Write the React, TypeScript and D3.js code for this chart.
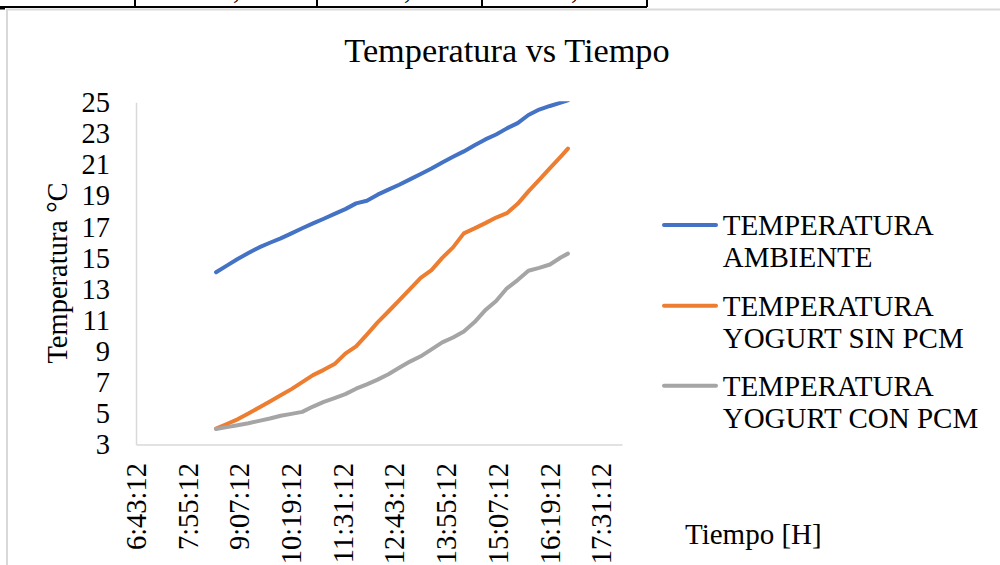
import React from "react";
import * as d3 from "d3";

// Sampling times (H:MM) shared by all three series
const times: string[] = [
  "8:34", "8:49", "9:04", "9:19", "9:34", "9:49", "10:04", "10:19", "10:34", "10:49",
  "11:04", "11:19", "11:34", "11:49", "12:04", "12:19", "12:34", "12:49", "13:04", "13:19",
  "13:34", "13:49", "14:04", "14:19", "14:34", "14:49", "15:04", "15:19", "15:34", "15:49",
  "16:04", "16:19", "16:34", "16:44",
];

// Temperatures in °C
const tempAmbiente: number[] = [
  14.1, 14.53, 14.95, 15.34, 15.7, 16.0, 16.28, 16.6, 16.93, 17.24,
  17.54, 17.85, 18.16, 18.53, 18.7, 19.09, 19.41, 19.73, 20.07, 20.42,
  20.77, 21.16, 21.52, 21.87, 22.27, 22.64, 22.96, 23.35, 23.69, 24.21,
  24.56, 24.79, 25.0, 25.15,
];
const tempSinPcm: number[] = [
  4.05, 4.35, 4.65, 5.02, 5.41, 5.8, 6.19, 6.59, 7.04, 7.49,
  7.83, 8.2, 8.87, 9.34, 10.1, 10.88, 11.58, 12.3, 13.02, 13.74,
  14.24, 15.03, 15.7, 16.6, 16.92, 17.26, 17.62, 17.9, 18.5, 19.3,
  20.04, 20.79, 21.54, 22.05,
];
const tempConPcm: number[] = [
  4.03, 4.15, 4.27, 4.4, 4.55, 4.7, 4.88, 5.0, 5.13, 5.47,
  5.77, 6.02, 6.27, 6.62, 6.9, 7.2, 7.55, 7.96, 8.36, 8.7,
  9.15, 9.6, 9.91, 10.3, 10.9, 11.67, 12.25, 13.07, 13.6, 14.2,
  14.38, 14.6, 15.05, 15.3,
];

const seriesNames: string[][] = [
  ["TEMPERATURA", "AMBIENTE"],
  ["TEMPERATURA", "YOGURT SIN PCM"],
  ["TEMPERATURA", "YOGURT CON PCM"],
];
const seriesColors: string[] = ["#4472C4", "#ED7D31", "#A5A5A5"];

const xTickLabels: string[] = [
  "6:43:12", "7:55:12", "9:07:12", "10:19:12", "11:31:12",
  "12:43:12", "13:55:12", "15:07:12", "16:19:12", "17:31:12",
];
const xDomainMinutes: [number, number] = [403.2, 1080]; // 0.28 .. 0.75 of a day
const yTicks: number[] = [3, 5, 7, 9, 11, 13, 15, 17, 19, 21, 23, 25];

const toMinutes = (s: string): number => {
  const p = s.split(":").map(Number);
  return p[0] * 60 + p[1] + (p[2] || 0) / 60;
};

const FONT = "'Liberation Serif', 'Times New Roman', serif";

export default function App() {
  React.useEffect(() => {
    document.body.style.margin = "0";
    document.body.style.overflow = "hidden";
  }, []);

  const left = 136.5;
  const right = 622.5;
  const top = 102.7;
  const bottom = 445;

  const x = d3.scaleLinear().domain(xDomainMinutes).range([left, right]);
  const y = d3.scaleLinear().domain([3, 25]).range([bottom, top]);

  const series = [tempAmbiente, tempSinPcm, tempConPcm];
  const line = d3
    .line<[number, number]>()
    .x((d) => x(d[0]))
    .y((d) => y(d[1]));
  const tMin = times.map(toMinutes);

  const legendY = [225, 305.7, 385.7];

  return (
    <svg
      width={1000}
      height={565}
      style={{ position: "absolute", left: 0, top: 0, background: "#fff" }}
      fontFamily={FONT}
    >
      {/* table edge above the chart */}
      <line x1={0} x2={647} y1={7} y2={7} stroke="#000" strokeWidth={2} />
      <line x1={0} x2={5} y1={8.5} y2={8.5} stroke="#000" strokeWidth={2} />
      {[135, 317, 482, 647].map((vx) => (
        <line key={vx} x1={vx} x2={vx} y1={0} y2={7} stroke="#000" strokeWidth={2} />
      ))}
      {[233, 404, 571].map((cx) => (
        <text key={cx} x={cx} y={-1.5} fontSize={28} fill="#000">,</text>
      ))}

      {/* chart frame */}
      <rect x={7} y={9.5} width={1010} height={600} fill="#fff" stroke="#d9d9d9" strokeWidth={2} />

      <text x={507} y={61.7} textAnchor="middle" fontSize={34.3} fill="#000">
        Temperatura vs Tiempo
      </text>

      {/* axes */}
      <line x1={left} x2={left} y1={top} y2={bottom} stroke="#d9d9d9" strokeWidth={1.5} />
      <line x1={left} x2={right} y1={bottom} y2={bottom} stroke="#d9d9d9" strokeWidth={1.5} />

      {yTicks.map((t) => (
        <text key={t} x={110} y={y(t)} dy="0.33em" textAnchor="end" fontSize={28.5} fill="#000">
          {t}
        </text>
      ))}

      {xTickLabels.map((lbl) => (
        <text
          key={lbl}
          transform={`translate(${x(toMinutes(lbl))},463) rotate(-90)`}
          dy="0.33em"
          textAnchor="end"
          fontSize={28.5}
          fill="#000"
        >
          {lbl}
        </text>
      ))}

      <text transform="translate(67,273) rotate(-90)" textAnchor="middle" fontSize={28.5} fill="#000">
        Temperatura °C
      </text>
      <text x={685} y={544} fontSize={29} fill="#000">
        Tiempo [H]
      </text>

      <defs>
        <clipPath id="plotClip">
          <rect x={left} y={top - 1.5} width={right - left} height={bottom - top + 1.5} />
        </clipPath>
      </defs>
      <g clipPath="url(#plotClip)">
        {series.map((vals, i) => (
          <path
            key={i}
            d={line(vals.map((v, j) => [tMin[j], v] as [number, number])) || ""}
            fill="none"
            stroke={seriesColors[i]}
            strokeWidth={4}
            strokeLinejoin="round"
            strokeLinecap="round"
          />
        ))}
      </g>

      {/* legend */}
      {seriesNames.map((name, i) => (
        <g key={i}>
          <line
            x1={664}
            x2={716}
            y1={legendY[i]}
            y2={legendY[i]}
            stroke={seriesColors[i]}
            strokeWidth={4}
            strokeLinecap="round"
          />
          <text x={722.7} y={legendY[i] + 10} fontSize={29} fill="#000">
            {name[0]}
          </text>
          <text x={722.7} y={legendY[i] + 42} fontSize={29} fill="#000">
            {name[1]}
          </text>
        </g>
      ))}
    </svg>
  );
}
